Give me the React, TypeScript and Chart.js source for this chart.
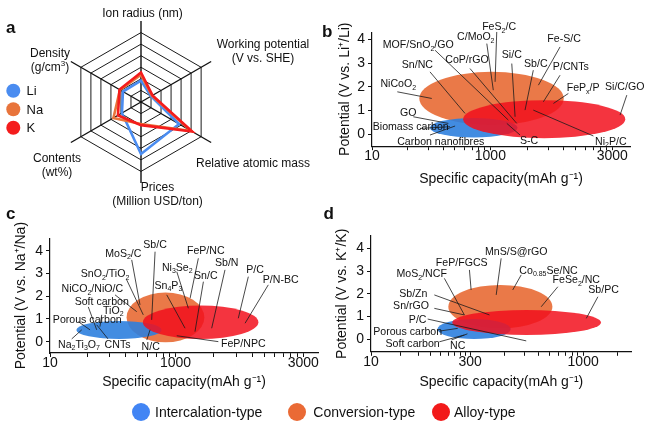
import React, { useEffect, useRef } from "react";
import { Chart, registerables } from "chart.js";

Chart.register(...registerables);

const FONT = "'Liberation Sans', Arial, Helvetica, sans-serif";
const INK = "#111111";

// ---------------- panel a : radar ----------------
const radarAxes = [
  ["Ion radius (nm)"],
  ["Working potential", "(V vs. SHE)"],
  ["Relative atomic mass"],
  ["Prices", "(Million USD/ton)"],
  ["Contents", "(wt%)"],
  ["Density", "(g/cm^3)"],
];
const ionNames = ["Li", "Na", "K"];
const liScores = [1.85, 1.0, 3.8, 4.5, 1.9, 1.8];
const naScores = [2.35, 1.1, 5.0, 1.9, 2.75, 2.1];
const kScores = [2.55, 1.15, 5.1, 2.0, 2.3, 2.15];

// ---------------- mechanism types ----------------
const mechanismTypes = ["Intercalation-type", "Conversion-type", "Alloy-type"];

// ---------------- panel b : Li ----------------
const liTickLabels = ["10", "1000", "3000"];
const liTickPos = [0, 1, 2.03];
const liIntercalationCap = [0.49, 1.23];
const liIntercalationV = [-0.13, 0.69];
const liConversionCap = [0.4, 1.62];
const liConversionV = [0.39, 2.63];
const liAlloyCap = [0.77, 2.14];
const liAlloyV = [-0.16, 1.44];

// ---------------- panel c : Na ----------------
const naTickLabels = ["10", "1000", "3000"];
const naTickPos = [0, 1, 2.018];
const naIntercalationCap = [0.21, 0.89];
const naIntercalationV = [0.12, 0.91];
const naConversionCap = [0.61, 1.23];
const naConversionV = [-0.03, 2.16];
const naAlloyCap = [0.74, 1.66];
const naAlloyV = [0.12, 1.59];

// ---------------- panel d : K ----------------
const kTickLabels = ["10", "300", "1000"];
const kTickPos = [0, 1, 2.14];
const kIntercalationCap = [0.67, 1.41];
const kIntercalationV = [0.01, 0.89];
const kConversionCap = [0.78, 1.83];
const kConversionV = [0.48, 2.39];
const kAlloyCap = [0.82, 2.32];
const kAlloyV = [0.19, 1.29];

const potentialTicks = [0, 1, 2, 3, 4];

// callouts: [text, labelX, labelY, lineFromX, lineFromY, lineToX, lineToY] (axis units)
const liCallouts: [string, number, number, number, number, number, number][] = [
  ["FeS_2/C", 1.074, 4.55, 1.054, 4.31, 1.04, 2.21],
  ["C/MoO_2", 0.877, 4.13, 0.97, 3.82, 1.025, 1.86],
  ["MOF/SnO_2/GO", 0.391, 3.79, 0.533, 3.54, 1.152, 0.6],
  ["Sn/NC", 0.383, 2.95, 0.49, 2.63, 0.786, 0.88],
  ["CoP/rGO", 0.803, 3.15, 0.828, 2.77, 1.223, 0.46],
  ["Si/C", 1.181, 3.37, 1.181, 2.98, 1.209, 0.74],
  ["Sb/C", 1.384, 3.01, 1.363, 2.7, 1.293, 1.02],
  ["Fe-S/C", 1.623, 4.03, 1.589, 3.68, 1.406, 2.07],
  ["P/CNTs", 1.68, 2.87, 1.589, 2.49, 1.448, 1.37],
  ["FeP_x/P", 1.784, 1.97, 1.659, 1.72, 1.533, 1.3],
  ["Si/C/GO", 2.135, 2.03, 2.153, 1.65, 2.096, 0.81],
  ["NiCoO_2", 0.222, 2.14, 0.214, 1.79, 0.505, 1.51],
  ["GO", 0.307, 0.92, 0.349, 0.74, 0.645, 0.46],
  ["Biomass carbon", 0.327, 0.35, 0.406, 0.25, 0.659, 0.32],
  ["Carbon nanofibres", 0.581, -0.27, 0.49, -0.03, 0.702, 0.35],
  ["S-C", 1.327, -0.24, 1.251, -0.03, 1.139, 0.46],
  ["Ni_2P/C", 2.018, -0.27, 1.871, -0.07, 1.363, 1.02],
];
const naCallouts: [string, number, number, number, number, number, number][] = [
  ["Sb/C", 0.837, 4.29, 0.837, 3.96, 0.81, 0.96],
  ["MoS_2/C", 0.584, 3.91, 0.651, 3.6, 0.717, 1.62],
  ["FeP/NC", 1.241, 4.01, 1.182, 3.67, 1.116, 1.91],
  ["Ni_3Se_2", 1.014, 3.3, 1.01, 3.08, 1.102, 1.47],
  ["Sb/N", 1.408, 3.5, 1.394, 3.16, 1.288, 0.59],
  ["Sn/C", 1.241, 2.91, 1.222, 2.64, 1.155, 0.44],
  ["P/C", 1.633, 3.2, 1.58, 2.86, 1.5, 1.03],
  ["P/N-BC", 1.838, 2.76, 1.739, 2.5, 1.554, 0.81],
  ["Sn_4P_3", 0.943, 2.5, 0.93, 2.06, 1.076, 0.59],
  ["SnO_2/TiO_2", 0.438, 3.01, 0.611, 2.72, 0.743, 1.18],
  ["NiCO_2/NiO/C", 0.337, 2.35, 0.518, 2.06, 0.691, 1.32],
  ["Soft carbon", 0.412, 1.79, 0.305, 1.53, 0.372, 0.52],
  ["TiO_2", 0.504, 1.4, 0.412, 1.18, 0.398, 0.66],
  ["Porous carbon", 0.297, 1.0, 0.225, 0.88, 0.319, 0.52],
  ["Na_2Ti_3O_7", 0.231, -0.1, 0.173, 0.12, 0.253, 0.52],
  ["CNTs", 0.538, -0.11, 0.462, 0.12, 0.372, 0.74],
  ["N/C", 0.802, -0.18, 0.771, 0.07, 0.797, 0.52],
  ["FeP/NPC", 1.54, -0.07, 1.341, 0.0, 1.01, 0.26],
];
const kCallouts: [string, number, number, number, number, number, number][] = [
  ["MnS/S@rGO", 1.465, 3.88, 1.313, 3.56, 1.263, 1.95],
  ["FeP/FGCS", 0.915, 3.41, 0.993, 3.05, 1.01, 2.17],
  ["MoS_2/NCF", 0.511, 2.91, 0.74, 2.68, 0.942, 1.07],
  ["Co_{0.85}Se/NC", 1.791, 3.05, 1.515, 2.83, 1.43, 2.17],
  ["FeSe_2/NC", 2.071, 2.64, 1.885, 2.31, 1.717, 1.43],
  ["Sb/PC", 2.346, 2.21, 2.289, 1.87, 2.172, 0.92],
  ["Sb/Zn", 0.427, 2.04, 0.639, 1.95, 1.195, 1.07],
  ["Sn/rGO", 0.404, 1.48, 0.639, 1.36, 0.942, 1.07],
  ["P/C", 0.471, 0.88, 0.572, 0.89, 1.566, -0.07],
  ["Porous carbon", 0.37, 0.36, 0.69, 0.36, 0.875, 0.48],
  ["Soft carbon", 0.42, -0.18, 0.69, -0.11, 0.942, 0.19],
  ["NC", 0.875, -0.25, 0.811, -0.03, 0.973, 0.24],
];

// ---------------- styles ----------------
const ION_COLORS = ["#4a8cf0", "#e8743b", "#f41c1c"];
const FILL = {
  intercalation: "rgba(45,128,222,0.9)",
  conversion: "rgba(232,106,52,0.9)",
  alloy: "rgba(242,17,29,0.85)",
};
const LEGEND_COLORS = ["#4285f4", "#ea6a35", "#f21a1a"];
const CALLOUT_SIZE = 10.6;

// ---------------- rich text helper ----------------
type Seg = { kind: "n" | "sub" | "sup"; t: string; w?: number };
function parseRich(text: string): Seg[] {
  const segs: Seg[] = [];
  let buf = "";
  let i = 0;
  while (i < text.length) {
    const c = text[i];
    if ((c === "_" || c === "^") && i + 1 < text.length) {
      if (buf) {
        segs.push({ kind: "n", t: buf });
        buf = "";
      }
      let t: string;
      if (text[i + 1] === "{") {
        const j = text.indexOf("}", i + 2);
        t = text.slice(i + 2, j);
        i = j + 1;
      } else {
        t = text[i + 1];
        i += 2;
      }
      segs.push({ kind: c === "_" ? "sub" : "sup", t });
    } else {
      buf += c;
      i++;
    }
  }
  if (buf) segs.push({ kind: "n", t: buf });
  return segs;
}
function drawRich(
  ctx: CanvasRenderingContext2D,
  text: string,
  x: number,
  y: number,
  size: number,
  align: "left" | "center" | "right" = "center"
) {
  const segs = parseRich(text);
  const fontFor = (s: Seg) => `${s.kind === "n" ? size : Math.round(size * 0.7)}px ${FONT}`;
  let total = 0;
  for (const s of segs) {
    ctx.font = fontFor(s);
    s.w = ctx.measureText(s.t).width;
    total += s.w;
  }
  let cx = align === "center" ? x - total / 2 : align === "right" ? x - total : x;
  const base = y + size * 0.36;
  ctx.textAlign = "left";
  ctx.textBaseline = "alphabetic";
  for (const s of segs) {
    ctx.font = fontFor(s);
    const dy = s.kind === "sub" ? size * 0.26 : s.kind === "sup" ? -size * 0.42 : 0;
    ctx.fillText(s.t, cx, base + dy);
    cx += s.w || 0;
  }
}

// ---------------- radar ----------------
const radarLabelOffsets = [
  [1.5, -89],
  [122, -51.5],
  [112, 61],
  [16.5, 91.3],
  [-84, 62.2],
  [-91, -42],
];

const radarDecor = {
  id: "radarDecor",
  afterDraw(chart: any) {
    const ctx: CanvasRenderingContext2D = chart.ctx;
    const r = chart.scales.r;
    ctx.save();
    ctx.fillStyle = INK;
    radarAxes.forEach((lines, i) => {
      const [dx, dy] = radarLabelOffsets[i];
      const lh = 14;
      const startY = r.yCenter + dy - ((lines.length - 1) * lh) / 2;
      lines.forEach((ln, k) => drawRich(ctx, ln, r.xCenter + dx, startY + k * lh, 12, "center"));
    });
    // legend
    chart.data.datasets.forEach((ds: any, i: number) => {
      const cy = 90.7 + i * 18.5;
      ctx.beginPath();
      ctx.arc(13.3, cy, 7, 0, Math.PI * 2);
      ctx.fillStyle = ds.borderColor;
      ctx.fill();
      ctx.fillStyle = INK;
      ctx.font = `13px ${FONT}`;
      ctx.textAlign = "left";
      ctx.textBaseline = "middle";
      ctx.fillText(ds.label, 26.5, cy + 1);
    });
    ctx.restore();
  },
};

function radarConfig(): any {
  const scores = [liScores, naScores, kScores];
  return {
    type: "radar",
    data: {
      labels: radarAxes.map((l) => l.join(" ")),
      datasets: ionNames.map((name, i) => ({
        label: name,
        data: scores[i],
        borderColor: ION_COLORS[i],
        backgroundColor: "rgba(0,0,0,0)",
        borderWidth: 2.6,
        pointRadius: 0,
        fill: false,
        tension: 0,
        order: 3 - i,
      })),
    },
    options: {
      animation: false,
      responsive: false,
      maintainAspectRatio: false,
      events: [],
      layout: { padding: { left: 60, top: 21, right: 97, bottom: 31 } },
      plugins: { legend: { display: false }, tooltip: { enabled: false } },
      scales: {
        r: {
          min: 0,
          max: 7,
          ticks: { display: false, stepSize: 1 },
          pointLabels: { display: false },
          grid: {
            color: (c: any) => (c.tick && c.tick.value >= 7 ? "rgba(0,0,0,0)" : "#1a1a1a"),
            lineWidth: 1,
          },
          angleLines: { color: "#111", lineWidth: 1.4 },
        },
      },
    },
    plugins: [radarDecor],
  };
}

// ---------------- bubble panels ----------------
const ellipsePlugin = {
  id: "mechanismEllipses",
  beforeDatasetsDraw(chart: any) {
    const { ctx, scales } = chart;
    const x = scales.x;
    const y = scales.y;
    chart.data.datasets.forEach((ds: any) => {
      const [p0, p1] = ds.data;
      const x0 = x.getPixelForValue(p0.x);
      const x1 = x.getPixelForValue(p1.x);
      const y0 = y.getPixelForValue(p0.y);
      const y1 = y.getPixelForValue(p1.y);
      ctx.save();
      ctx.beginPath();
      ctx.ellipse((x0 + x1) / 2, (y0 + y1) / 2, Math.abs(x1 - x0) / 2, Math.abs(y1 - y0) / 2, 0, 0, Math.PI * 2);
      ctx.fillStyle = ds.backgroundColor;
      ctx.fill();
      ctx.restore();
    });
  },
};

function calloutPlugin(items: [string, number, number, number, number, number, number][]) {
  return {
    id: "callouts",
    afterDatasetsDraw(chart: any) {
      const { ctx, scales } = chart;
      const x = scales.x;
      const y = scales.y;
      ctx.save();
      ctx.strokeStyle = "#1a1a1a";
      ctx.lineWidth = 0.8;
      items.forEach((it) => {
        ctx.beginPath();
        ctx.moveTo(x.getPixelForValue(it[3]), y.getPixelForValue(it[4]));
        ctx.lineTo(x.getPixelForValue(it[5]), y.getPixelForValue(it[6]));
        ctx.stroke();
      });
      ctx.fillStyle = INK;
      items.forEach((it) => {
        drawRich(ctx, it[0], x.getPixelForValue(it[1]), y.getPixelForValue(it[2]), CALLOUT_SIZE, "center");
      });
      ctx.restore();
    },
  };
}

function buildXTicks(majors: number[], max: number): number[] {
  const out: number[] = [];
  for (let s = 0; s < majors.length; s++) {
    const a = majors[s];
    const b = s + 1 < majors.length ? majors[s + 1] : a + (majors[s] - majors[s - 1]);
    out.push(a);
    for (let k = 2; k <= 9; k++) {
      const v = a + Math.log10(k) * (b - a);
      if (v <= max) out.push(v);
    }
  }
  return out;
}

type Panel = {
  ion: string;
  tickLabels: string[];
  tickPos: number[];
  cap: number[][];
  volt: number[][];
  callouts: [string, number, number, number, number, number, number][];
  xMax: number;
  yMin: number;
  yMax: number;
  padT: number;
  padR: number;
  yW: number;
  xH: number;
  xTitlePad: number;
  yTitlePad: number;
};

function panelConfig(p: Panel): any {
  // order of drawing: conversion, intercalation, alloy
  const order = [1, 0, 2];
  const fills = [FILL.intercalation, FILL.conversion, FILL.alloy];
  const majorLabel = (v: number) => {
    const i = p.tickPos.findIndex((m) => Math.abs(m - v) < 1e-6);
    return i >= 0 ? p.tickLabels[i] : "";
  };
  return {
    type: "scatter",
    data: {
      datasets: order.map((k) => ({
        label: mechanismTypes[k],
        data: [
          { x: p.cap[k][0], y: p.volt[k][0] },
          { x: p.cap[k][1], y: p.volt[k][1] },
        ],
        backgroundColor: fills[k],
        pointRadius: 0,
        pointHoverRadius: 0,
      })),
    },
    options: {
      animation: false,
      responsive: false,
      maintainAspectRatio: false,
      events: [],
      layout: { padding: { left: 0, top: p.padT, right: p.padR, bottom: 0 } },
      plugins: { legend: { display: false }, tooltip: { enabled: false } },
      scales: {
        x: {
          type: "linear",
          min: 0,
          max: p.xMax,
          afterBuildTicks: (s: any) => {
            s.ticks = buildXTicks(p.tickPos, p.xMax).map((v) => ({ value: v }));
          },
          afterFit: (s: any) => {
            s.height = p.xH;
          },
          ticks: {
            autoSkip: false,
            maxRotation: 0,
            padding: -1,
            color: INK,
            font: { family: FONT, size: 14, lineHeight: 1 },
            callback: (v: number) => majorLabel(v),
          },
          grid: { drawOnChartArea: false, drawTicks: true, tickLength: 4, color: INK, lineWidth: 1 },
          border: { display: true, color: INK, width: 1.2 },
          title: {
            display: true,
            text: "Specific capacity(mAh g\u207B\u00B9)",
            color: INK,
            font: { family: FONT, size: 14, lineHeight: 1 },
            padding: { top: 0, bottom: p.xTitlePad },
          },
        },
        y: {
          type: "linear",
          min: p.yMin,
          max: p.yMax,
          afterBuildTicks: (s: any) => {
            s.ticks = potentialTicks.map((v) => ({ value: v }));
          },
          afterFit: (s: any) => {
            s.width = p.yW;
          },
          ticks: {
            padding: 3,
            color: INK,
            font: { family: FONT, size: 14, lineHeight: 1 },
            callback: (v: number) => String(v),
          },
          grid: { drawOnChartArea: false, drawTicks: true, tickLength: 4, color: INK, lineWidth: 1 },
          border: { display: true, color: INK, width: 1.2 },
          title: {
            display: true,
            text: `Potential (V vs. ${p.ion}\u207A/${p.ion})`,
            color: INK,
            font: { family: FONT, size: 14, lineHeight: 1 },
            padding: { top: p.yTitlePad, bottom: 0 },
          },
        },
      },
    },
    plugins: [ellipsePlugin, calloutPlugin(p.callouts)],
  };
}

const panelB: Panel = {
  ion: "Li",
  tickLabels: liTickLabels,
  tickPos: liTickPos,
  cap: [liIntercalationCap, liConversionCap, liAlloyCap],
  volt: [liIntercalationV, liConversionV, liAlloyV],
  callouts: liCallouts,
  xMax: 2.18,
  yMin: -0.5,
  yMax: 4.3,
  padT: 32.2,
  padR: 20,
  yW: 52,
  xH: 53.8,
  xTitlePad: 14,
  yTitlePad: 18,
};
const panelC: Panel = {
  ion: "Na",
  tickLabels: naTickLabels,
  tickPos: naTickPos,
  cap: [naIntercalationCap, naConversionCap, naAlloyCap],
  volt: [naIntercalationV, naConversionV, naAlloyV],
  callouts: naCallouts,
  xMax: 2.135,
  yMin: -0.5,
  yMax: 4.55,
  padT: 38.3,
  padR: 7,
  yW: 50,
  xH: 47,
  xTitlePad: 11.3,
  yTitlePad: 14,
};
const panelD: Panel = {
  ion: "K",
  tickLabels: kTickLabels,
  tickPos: kTickPos,
  cap: [kIntercalationCap, kConversionCap, kAlloyCap],
  volt: [kIntercalationV, kConversionV, kAlloyV],
  callouts: kCallouts,
  xMax: 2.63,
  yMin: -0.55,
  yMax: 4.55,
  padT: 35.8,
  padR: 18.3,
  yW: 46,
  xH: 48.2,
  xTitlePad: 11.3,
  yTitlePad: 10.5,
};

const legendLayout = [
  { cx: 141, tx: 155 },
  { cx: 297.3, tx: 313.3 },
  { cx: 440.7, tx: 454 },
];

const panelLetters = [
  { t: "a", left: 6, top: 18.6 },
  { t: "b", left: 322, top: 22.6 },
  { t: "c", left: 6, top: 205 },
  { t: "d", left: 323.5, top: 205 },
];

export default function App() {
  const aRef = useRef<HTMLCanvasElement>(null);
  const bRef = useRef<HTMLCanvasElement>(null);
  const cRef = useRef<HTMLCanvasElement>(null);
  const dRef = useRef<HTMLCanvasElement>(null);

  useEffect(() => {
    const charts = [
      new Chart(aRef.current as HTMLCanvasElement, radarConfig()),
      new Chart(bRef.current as HTMLCanvasElement, panelConfig(panelB)),
      new Chart(cRef.current as HTMLCanvasElement, panelConfig(panelC)),
      new Chart(dRef.current as HTMLCanvasElement, panelConfig(panelD)),
    ];
    return () => charts.forEach((c) => c.destroy());
  }, []);

  const abs = (l: number, t: number, w: number, h: number): React.CSSProperties => ({
    position: "absolute",
    left: l,
    top: t,
    width: w,
    height: h,
  });

  return (
    <div
      style={{
        position: "absolute",
        left: 0,
        top: 0,
        width: 650,
        height: 430,
        background: "#fff",
        overflow: "hidden",
        fontFamily: FONT,
        color: INK,
      }}
    >
      <canvas ref={aRef} width={320} height={215} style={abs(0, 0, 320, 215)} />
      <canvas ref={bRef} width={330} height={200} style={abs(320, 0, 330, 200)} />
      <canvas ref={cRef} width={325} height={200} style={abs(0, 200, 325, 200)} />
      <canvas ref={dRef} width={325} height={200} style={abs(325, 200, 325, 200)} />
      {panelLetters.map((p) => (
        <div
          key={p.t}
          style={{
            position: "absolute",
            left: p.left,
            top: p.top,
            fontSize: 17,
            fontWeight: "bold",
            lineHeight: 1,
          }}
        >
          {p.t}
        </div>
      ))}
      {mechanismTypes.map((name, i) => (
        <React.Fragment key={name}>
          <div
            style={{
              position: "absolute",
              left: legendLayout[i].cx - 9,
              top: 412.3 - 9,
              width: 18,
              height: 18,
              borderRadius: "50%",
              background: LEGEND_COLORS[i],
            }}
          />
          <div
            style={{
              position: "absolute",
              left: legendLayout[i].tx,
              top: 412.3 - 8,
              fontSize: 14,
              lineHeight: "16px",
              whiteSpace: "nowrap",
            }}
          >
            {name}
          </div>
        </React.Fragment>
      ))}
    </div>
  );
}
